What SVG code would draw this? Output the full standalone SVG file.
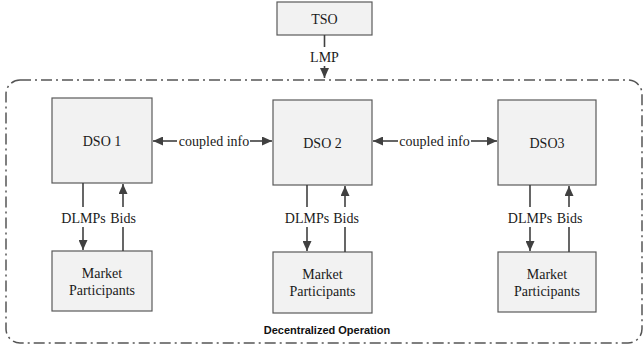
<svg xmlns="http://www.w3.org/2000/svg" width="644" height="349" viewBox="0 0 644 349">
<defs>
<marker id="ah" markerUnits="userSpaceOnUse" markerWidth="10" markerHeight="9" refX="10" refY="4.5" orient="auto">
<path d="M0,0 L10,4.5 L0,9 z" fill="#404040"/>
</marker>
<style>
.box{fill:#f2f2f2;stroke:#5a5a5a;stroke-width:1.2}
.t{font-family:"Liberation Serif","DejaVu Serif",serif;font-size:14px;fill:#1a1a1a;text-anchor:middle}
.c{stroke:#404040;stroke-width:1.6;fill:none}
.frame{fill:none;stroke:#555;stroke-width:1.5;stroke-dasharray:11 4 2 4}
.lab{font-family:"Liberation Sans",Arial,sans-serif;font-size:11px;font-weight:bold;fill:#111;text-anchor:middle}
</style>
</defs>
<rect id="frame" class="frame" x="6" y="80" width="636" height="263" rx="14"/>
<text class="lab" x="327" y="334">Decentralized Operation</text>
<g id="tso"><rect class="box" x="277" y="2" width="95" height="33"/><text class="t" x="324.5" y="24">TSO</text></g>
<g id="dso1"><rect class="box" x="52" y="98" width="100" height="85"/><text class="t" x="102" y="146">DSO 1</text></g>
<g id="dso2"><rect class="box" x="273" y="100" width="99" height="85"/><text class="t" x="322.5" y="148">DSO 2</text></g>
<g id="dso3"><rect class="box" x="498" y="100" width="98" height="85"/><text class="t" x="547" y="148">DSO3</text></g>
<g id="mp1"><rect class="box" x="52" y="251" width="100" height="60"/><text class="t" x="102" y="278">Market</text><text class="t" x="102" y="295">Participants</text></g>
<g id="mp2"><rect class="box" x="273" y="252" width="99" height="61"/><text class="t" x="322.5" y="279">Market</text><text class="t" x="322.5" y="296">Participants</text></g>
<g id="mp3"><rect class="box" x="498" y="252" width="98" height="60"/><text class="t" x="547" y="279">Market</text><text class="t" x="547" y="296">Participants</text></g>
<g id="connectors">
<path class="c" d="M324.5,35 V47"/>
<path class="c" d="M324.5,66 V78" marker-end="url(#ah)"/>
<text class="t" x="324.5" y="62">LMP</text>
<path class="c" d="M177,141 H153" marker-end="url(#ah)"/>
<path class="c" d="M250,141 H272" marker-end="url(#ah)"/>
<text class="t" x="214" y="146">coupled info</text>
<path class="c" d="M398,141 H373" marker-end="url(#ah)"/>
<path class="c" d="M471,141 H497" marker-end="url(#ah)"/>
<text class="t" x="434.5" y="146">coupled info</text>
<path class="c" d="M83,183 V207"/>
<path class="c" d="M83,227 V250" marker-end="url(#ah)"/>
<path class="c" d="M123,251 V227"/>
<path class="c" d="M123,207 V184" marker-end="url(#ah)"/>
<text class="t" x="83.5" y="223">DLMPs</text><text class="t" x="123" y="223">Bids</text>
<path class="c" d="M307,185 V207"/>
<path class="c" d="M307,227 V251" marker-end="url(#ah)"/>
<path class="c" d="M345,252 V227"/>
<path class="c" d="M345,207 V186" marker-end="url(#ah)"/>
<text class="t" x="307" y="223">DLMPs</text><text class="t" x="346" y="223">Bids</text>
<path class="c" d="M530,185 V207"/>
<path class="c" d="M530,227 V251" marker-end="url(#ah)"/>
<path class="c" d="M569,252 V227"/>
<path class="c" d="M569,207 V186" marker-end="url(#ah)"/>
<text class="t" x="530" y="223">DLMPs</text><text class="t" x="569.5" y="223">Bids</text>
</g>
</svg>
